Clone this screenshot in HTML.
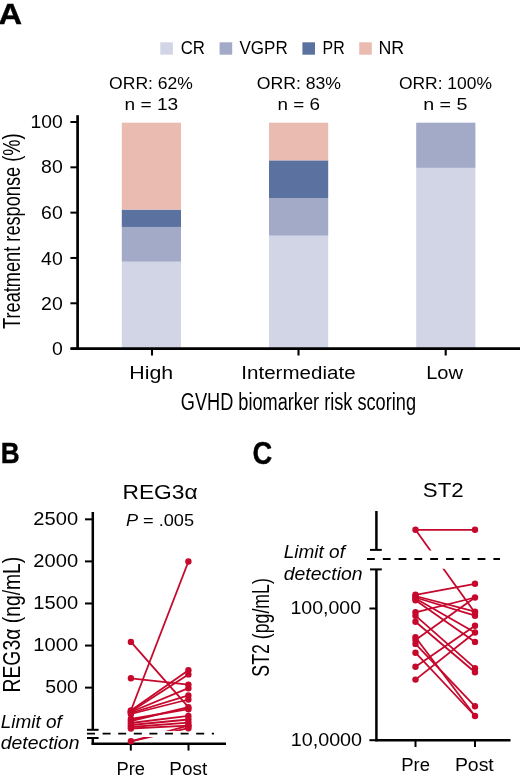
<!DOCTYPE html>
<html><head><meta charset="utf-8"><style>
html,body{margin:0;padding:0;background:#fff;width:520px;height:780px;overflow:hidden}
svg{display:block;will-change:transform;font-family:"Liberation Sans",sans-serif}
text{fill:#000} text[font-weight=bold]{stroke:#000;stroke-width:0.4px}
</style></head><body>
<svg width="520" height="780" viewBox="0 0 520 780">
<rect x="160.3" y="42.3" width="12.6" height="12.4" fill="#d2d5e5"/>
<rect x="219.6" y="42.3" width="12.6" height="12.4" fill="#a3aac8"/>
<rect x="302.4" y="42.3" width="12.6" height="12.4" fill="#5b71a0"/>
<rect x="359.2" y="42.3" width="12.6" height="12.4" fill="#eabbb0"/>
<rect x="121.8" y="261.71538461538466" width="59.2" height="86.88461538461536" fill="#d2d5e5"/>
<rect x="121.8" y="226.96153846153845" width="59.2" height="34.75384615384621" fill="#a3aac8"/>
<rect x="121.8" y="209.5846153846154" width="59.2" height="17.37692307692305" fill="#5b71a0"/>
<rect x="121.8" y="122.70000000000005" width="59.2" height="86.88461538461536" fill="#eabbb0"/>
<rect x="269.0" y="235.65000000000003" width="59.2" height="112.94999999999999" fill="#d2d5e5"/>
<rect x="269.0" y="198.00000000000006" width="59.2" height="37.64999999999998" fill="#a3aac8"/>
<rect x="269.0" y="160.35000000000005" width="59.2" height="37.650000000000006" fill="#5b71a0"/>
<rect x="269.0" y="122.70000000000007" width="59.2" height="37.64999999999998" fill="#eabbb0"/>
<rect x="416.2" y="167.88000000000002" width="59.2" height="180.72" fill="#d2d5e5"/>
<rect x="416.2" y="122.70000000000005" width="59.2" height="45.17999999999998" fill="#a3aac8"/>
<line x1="77.6" y1="115.2" x2="77.6" y2="349.8" stroke="#000" stroke-width="2.7"/>
<line x1="70.6" y1="348.6" x2="520" y2="348.6" stroke="#000" stroke-width="2.6"/>
<line x1="70.4" y1="348.6" x2="77.6" y2="348.6" stroke="#000" stroke-width="2.0"/>
<line x1="70.4" y1="303.28000000000003" x2="77.6" y2="303.28000000000003" stroke="#000" stroke-width="2.0"/>
<line x1="70.4" y1="257.96000000000004" x2="77.6" y2="257.96000000000004" stroke="#000" stroke-width="2.0"/>
<line x1="70.4" y1="212.64000000000001" x2="77.6" y2="212.64000000000001" stroke="#000" stroke-width="2.0"/>
<line x1="70.4" y1="167.32000000000002" x2="77.6" y2="167.32000000000002" stroke="#000" stroke-width="2.0"/>
<line x1="70.4" y1="122.00000000000003" x2="77.6" y2="122.00000000000003" stroke="#000" stroke-width="2.0"/>
<line x1="152.0" y1="348.6" x2="152.0" y2="355.5" stroke="#000" stroke-width="2.1"/>
<line x1="298.5" y1="348.6" x2="298.5" y2="355.5" stroke="#000" stroke-width="2.1"/>
<line x1="445.7" y1="348.6" x2="445.7" y2="355.5" stroke="#000" stroke-width="2.1"/>
<text transform="translate(20.1 231.2) rotate(-90)" x="0" y="0" font-size="23" text-anchor="middle" textLength="195.5" lengthAdjust="spacingAndGlyphs">Treatment response (%)</text>
<line x1="92.8" y1="512" x2="92.8" y2="729.8" stroke="#000" stroke-width="2.5"/>
<line x1="87" y1="729.8" x2="98.6" y2="729.8" stroke="#000" stroke-width="2.0"/>
<line x1="87" y1="738.0" x2="98.6" y2="738.0" stroke="#000" stroke-width="2.0"/>
<line x1="92.8" y1="737.2" x2="92.8" y2="744.6" stroke="#000" stroke-width="2.5"/>
<line x1="91.6" y1="743.8" x2="226" y2="743.8" stroke="#000" stroke-width="2.5"/>
<line x1="85" y1="687.625" x2="92.8" y2="687.625" stroke="#000" stroke-width="2.0"/>
<line x1="85" y1="645.5500000000001" x2="92.8" y2="645.5500000000001" stroke="#000" stroke-width="2.0"/>
<line x1="85" y1="603.475" x2="92.8" y2="603.475" stroke="#000" stroke-width="2.0"/>
<line x1="85" y1="561.4000000000001" x2="92.8" y2="561.4000000000001" stroke="#000" stroke-width="2.0"/>
<line x1="85" y1="519.325" x2="92.8" y2="519.325" stroke="#000" stroke-width="2.0"/>
<line x1="130.8" y1="743.8" x2="130.8" y2="750.6" stroke="#000" stroke-width="2.0"/>
<line x1="188.5" y1="743.8" x2="188.5" y2="750.6" stroke="#000" stroke-width="2.0"/>
<text transform="translate(20.3 624.6) rotate(-90)" x="0" y="0" font-size="23" text-anchor="middle" textLength="135.8" lengthAdjust="spacingAndGlyphs">REG3α (ng/mL)</text>
<line x1="376.4" y1="511" x2="376.4" y2="550" stroke="#000" stroke-width="2.5"/>
<line x1="370" y1="549.9" x2="381.8" y2="549.9" stroke="#000" stroke-width="2.0"/>
<line x1="370" y1="569.4" x2="381.8" y2="569.4" stroke="#000" stroke-width="2.0"/>
<line x1="376.4" y1="569.4" x2="376.4" y2="741.3" stroke="#000" stroke-width="2.5"/>
<line x1="375.2" y1="740.2" x2="510.5" y2="740.2" stroke="#000" stroke-width="2.5"/>
<line x1="369.4" y1="608.5" x2="376.4" y2="608.5" stroke="#000" stroke-width="2.0"/>
<line x1="369.4" y1="740.2" x2="376.4" y2="740.2" stroke="#000" stroke-width="2.0"/>
<line x1="415.5" y1="740.2" x2="415.5" y2="747" stroke="#000" stroke-width="2.0"/>
<line x1="475.0" y1="740.2" x2="475.0" y2="747" stroke="#000" stroke-width="2.0"/>
<text transform="translate(269.3 627.4) rotate(-90)" x="0" y="0" font-size="24" text-anchor="middle" textLength="98.5" lengthAdjust="spacingAndGlyphs">ST2 (pg/mL)</text>
<line x1="87" y1="733.6" x2="214" y2="733.6" stroke="#000" stroke-width="1.9" stroke-dasharray="8 7.6"/>
<line x1="367" y1="559.1" x2="500" y2="559.1" stroke="#000" stroke-width="2.0" stroke-dasharray="7.8 8"/>
<defs><clipPath id="cb"><path d="M0 0H520V731H0ZM0 737H520V780H0Z"/></clipPath><clipPath id="cc"><path d="M0 0H520V550.5H0ZM0 568.8H520V780H0Z"/></clipPath></defs>
<g clip-path="url(#cb)">
<line x1="130.9" y1="641.9" x2="188.4" y2="707.2" stroke="#c5082c" stroke-width="1.8"/>
<line x1="130.9" y1="678.3" x2="188.4" y2="684.6" stroke="#c5082c" stroke-width="1.8"/>
<line x1="130.9" y1="710.5" x2="188.4" y2="561.5" stroke="#c5082c" stroke-width="1.8"/>
<line x1="130.9" y1="741.3" x2="188.4" y2="725.7" stroke="#c5082c" stroke-width="1.8"/>
<line x1="130.9" y1="741.3" x2="188.4" y2="728.2" stroke="#c5082c" stroke-width="1.8"/>
<line x1="130.9" y1="710.5" x2="188.4" y2="670.3" stroke="#c5082c" stroke-width="1.8"/>
<line x1="130.9" y1="711.5" x2="188.4" y2="674.4" stroke="#c5082c" stroke-width="1.8"/>
<line x1="130.9" y1="712" x2="188.4" y2="688.2" stroke="#c5082c" stroke-width="1.8"/>
<line x1="130.9" y1="713" x2="188.4" y2="695.4" stroke="#c5082c" stroke-width="1.8"/>
<line x1="130.9" y1="714" x2="188.4" y2="699.5" stroke="#c5082c" stroke-width="1.8"/>
<line x1="130.9" y1="721" x2="188.4" y2="707.2" stroke="#c5082c" stroke-width="1.8"/>
<line x1="130.9" y1="719" x2="188.4" y2="709.2" stroke="#c5082c" stroke-width="1.8"/>
<line x1="130.9" y1="723" x2="188.4" y2="715.9" stroke="#c5082c" stroke-width="1.8"/>
<line x1="130.9" y1="725" x2="188.4" y2="719.5" stroke="#c5082c" stroke-width="1.8"/>
<line x1="130.9" y1="727" x2="188.4" y2="722.6" stroke="#c5082c" stroke-width="1.8"/>
<line x1="130.9" y1="728.5" x2="188.4" y2="725.6" stroke="#c5082c" stroke-width="1.8"/>
</g>
<circle cx="130.9" cy="641.9" r="3.2" fill="#c5082c"/>
<circle cx="130.9" cy="678.3" r="3.2" fill="#c5082c"/>
<circle cx="130.9" cy="710.5" r="3.2" fill="#c5082c"/>
<circle cx="130.9" cy="711.5" r="3.2" fill="#c5082c"/>
<circle cx="130.9" cy="712" r="3.2" fill="#c5082c"/>
<circle cx="130.9" cy="713" r="3.2" fill="#c5082c"/>
<circle cx="130.9" cy="714" r="3.2" fill="#c5082c"/>
<circle cx="130.9" cy="719" r="3.2" fill="#c5082c"/>
<circle cx="130.9" cy="721" r="3.2" fill="#c5082c"/>
<circle cx="130.9" cy="723" r="3.2" fill="#c5082c"/>
<circle cx="130.9" cy="725" r="3.2" fill="#c5082c"/>
<circle cx="130.9" cy="727" r="3.2" fill="#c5082c"/>
<circle cx="130.9" cy="728.5" r="3.2" fill="#c5082c"/>
<circle cx="130.9" cy="741.3" r="3.2" fill="#c5082c"/>
<circle cx="188.4" cy="561.5" r="3.2" fill="#c5082c"/>
<circle cx="188.4" cy="670.3" r="3.2" fill="#c5082c"/>
<circle cx="188.4" cy="674.4" r="3.2" fill="#c5082c"/>
<circle cx="188.4" cy="684.6" r="3.2" fill="#c5082c"/>
<circle cx="188.4" cy="688.2" r="3.2" fill="#c5082c"/>
<circle cx="188.4" cy="695.4" r="3.2" fill="#c5082c"/>
<circle cx="188.4" cy="699.5" r="3.2" fill="#c5082c"/>
<circle cx="188.4" cy="707.2" r="3.2" fill="#c5082c"/>
<circle cx="188.4" cy="709.2" r="3.2" fill="#c5082c"/>
<circle cx="188.4" cy="715.9" r="3.2" fill="#c5082c"/>
<circle cx="188.4" cy="719.5" r="3.2" fill="#c5082c"/>
<circle cx="188.4" cy="722.6" r="3.2" fill="#c5082c"/>
<circle cx="188.4" cy="725.6" r="3.2" fill="#c5082c"/>
<circle cx="188.4" cy="725.7" r="3.2" fill="#c5082c"/>
<circle cx="188.4" cy="728.2" r="3.2" fill="#c5082c"/>
<g clip-path="url(#cc)">
<line x1="415.5" y1="529.8" x2="475.0" y2="529.8" stroke="#c5082c" stroke-width="1.8"/>
<line x1="415.5" y1="529.8" x2="475.0" y2="612.8" stroke="#c5082c" stroke-width="1.8"/>
<line x1="415.5" y1="594.8" x2="475.0" y2="583.8" stroke="#c5082c" stroke-width="1.8"/>
<line x1="415.5" y1="596" x2="475.0" y2="611.6" stroke="#c5082c" stroke-width="1.8"/>
<line x1="415.5" y1="597.5" x2="475.0" y2="615.7" stroke="#c5082c" stroke-width="1.8"/>
<line x1="415.5" y1="598.5" x2="475.0" y2="632.5" stroke="#c5082c" stroke-width="1.8"/>
<line x1="415.5" y1="600.2" x2="475.0" y2="641.9" stroke="#c5082c" stroke-width="1.8"/>
<line x1="415.5" y1="612.3" x2="475.0" y2="597.5" stroke="#c5082c" stroke-width="1.8"/>
<line x1="415.5" y1="615.7" x2="475.0" y2="668.2" stroke="#c5082c" stroke-width="1.8"/>
<line x1="415.5" y1="621.7" x2="475.0" y2="672.2" stroke="#c5082c" stroke-width="1.8"/>
<line x1="415.5" y1="639.9" x2="475.0" y2="597.5" stroke="#c5082c" stroke-width="1.8"/>
<line x1="415.5" y1="643.9" x2="475.0" y2="706.3" stroke="#c5082c" stroke-width="1.8"/>
<line x1="415.5" y1="637.2" x2="475.0" y2="716" stroke="#c5082c" stroke-width="1.8"/>
<line x1="415.5" y1="652.7" x2="475.0" y2="716" stroke="#c5082c" stroke-width="1.8"/>
<line x1="415.5" y1="666.8" x2="475.0" y2="625.8" stroke="#c5082c" stroke-width="1.8"/>
<line x1="415.5" y1="679.6" x2="475.0" y2="632.5" stroke="#c5082c" stroke-width="1.8"/>
</g>
<circle cx="415.5" cy="529.8" r="3.2" fill="#c5082c"/>
<circle cx="415.5" cy="594.8" r="3.2" fill="#c5082c"/>
<circle cx="415.5" cy="596" r="3.2" fill="#c5082c"/>
<circle cx="415.5" cy="597.5" r="3.2" fill="#c5082c"/>
<circle cx="415.5" cy="598.5" r="3.2" fill="#c5082c"/>
<circle cx="415.5" cy="600.2" r="3.2" fill="#c5082c"/>
<circle cx="415.5" cy="612.3" r="3.2" fill="#c5082c"/>
<circle cx="415.5" cy="615.7" r="3.2" fill="#c5082c"/>
<circle cx="415.5" cy="621.7" r="3.2" fill="#c5082c"/>
<circle cx="415.5" cy="637.2" r="3.2" fill="#c5082c"/>
<circle cx="415.5" cy="639.9" r="3.2" fill="#c5082c"/>
<circle cx="415.5" cy="643.9" r="3.2" fill="#c5082c"/>
<circle cx="415.5" cy="652.7" r="3.2" fill="#c5082c"/>
<circle cx="415.5" cy="666.8" r="3.2" fill="#c5082c"/>
<circle cx="415.5" cy="679.6" r="3.2" fill="#c5082c"/>
<circle cx="475.0" cy="529.8" r="3.2" fill="#c5082c"/>
<circle cx="475.0" cy="583.8" r="3.2" fill="#c5082c"/>
<circle cx="475.0" cy="597.5" r="3.2" fill="#c5082c"/>
<circle cx="475.0" cy="611.6" r="3.2" fill="#c5082c"/>
<circle cx="475.0" cy="612.8" r="3.2" fill="#c5082c"/>
<circle cx="475.0" cy="615.7" r="3.2" fill="#c5082c"/>
<circle cx="475.0" cy="625.8" r="3.2" fill="#c5082c"/>
<circle cx="475.0" cy="632.5" r="3.2" fill="#c5082c"/>
<circle cx="475.0" cy="641.9" r="3.2" fill="#c5082c"/>
<circle cx="475.0" cy="668.2" r="3.2" fill="#c5082c"/>
<circle cx="475.0" cy="672.2" r="3.2" fill="#c5082c"/>
<circle cx="475.0" cy="706.3" r="3.2" fill="#c5082c"/>
<circle cx="475.0" cy="716" r="3.2" fill="#c5082c"/>
<text x="-1.4" y="23.7" font-size="29.5" text-anchor="start" textLength="23.58" lengthAdjust="spacingAndGlyphs" font-weight="bold">A</text>
<text x="0.72" y="462.9" font-size="29.5" text-anchor="start" textLength="18.88" lengthAdjust="spacingAndGlyphs" font-weight="bold">B</text>
<text x="252.54" y="463.6" font-size="31.5" text-anchor="start" textLength="19.7" lengthAdjust="spacingAndGlyphs" font-weight="bold">C</text>
<text x="180.74" y="53.8" font-size="18" text-anchor="start" textLength="24.23" lengthAdjust="spacingAndGlyphs">CR</text>
<text x="239.48" y="53.8" font-size="18" text-anchor="start" textLength="48.23" lengthAdjust="spacingAndGlyphs">VGPR</text>
<text x="322.52" y="53.8" font-size="18" text-anchor="start" textLength="22.13" lengthAdjust="spacingAndGlyphs">PR</text>
<text x="378.4" y="53.8" font-size="18" text-anchor="start" textLength="25.75" lengthAdjust="spacingAndGlyphs">NR</text>
<text x="151.0" y="88.5" font-size="16.2" text-anchor="middle" textLength="83.8" lengthAdjust="spacingAndGlyphs">ORR: 62%</text>
<text x="151.4" y="109.6" font-size="16.2" text-anchor="middle" textLength="53.7" lengthAdjust="spacingAndGlyphs">n = 13</text>
<text x="298.86" y="88.5" font-size="16.2" text-anchor="middle" textLength="84.37" lengthAdjust="spacingAndGlyphs">ORR: 83%</text>
<text x="298.74" y="109.6" font-size="16.2" text-anchor="middle" textLength="42.45" lengthAdjust="spacingAndGlyphs">n = 6</text>
<text x="445.46" y="88.5" font-size="16.2" text-anchor="middle" textLength="93.04" lengthAdjust="spacingAndGlyphs">ORR: 100%</text>
<text x="445.3" y="109.6" font-size="16.2" text-anchor="middle" textLength="44.31" lengthAdjust="spacingAndGlyphs">n = 5</text>
<text x="151.32" y="379.0" font-size="17.5" text-anchor="middle" textLength="43.87" lengthAdjust="spacingAndGlyphs">High</text>
<text x="298.46" y="378.7" font-size="17.5" text-anchor="middle" textLength="114.23" lengthAdjust="spacingAndGlyphs">Intermediate</text>
<text x="444.58" y="379.0" font-size="17.5" text-anchor="middle" textLength="36.8" lengthAdjust="spacingAndGlyphs">Low</text>
<text x="298.4" y="410.4" font-size="23" text-anchor="middle" textLength="235.23" lengthAdjust="spacingAndGlyphs">GVHD biomarker risk scoring</text>
<text x="160.06" y="498.5" font-size="20.5" text-anchor="middle" textLength="75.17" lengthAdjust="spacingAndGlyphs">REG3α</text>
<text x="160.0" y="526.2" font-size="16" text-anchor="middle" textLength="68.1" lengthAdjust="spacingAndGlyphs"><tspan font-style="italic">P</tspan> = .005</text>
<text x="0.66" y="727.7" font-size="17.5" text-anchor="start" textLength="61.05" lengthAdjust="spacingAndGlyphs" font-style="italic">Limit of</text>
<text x="0.66" y="748.8" font-size="17.5" text-anchor="start" textLength="78.8" lengthAdjust="spacingAndGlyphs" font-style="italic">detection</text>
<text x="130.7" y="774.6" font-size="17.5" text-anchor="middle" textLength="28.52" lengthAdjust="spacingAndGlyphs">Pre</text>
<text x="188.28" y="774.6" font-size="17.5" text-anchor="middle" textLength="37.85" lengthAdjust="spacingAndGlyphs">Post</text>
<text x="443.3" y="496.9" font-size="20.5" text-anchor="middle" textLength="40.89" lengthAdjust="spacingAndGlyphs">ST2</text>
<text x="283.74" y="558.2" font-size="17.5" text-anchor="start" textLength="61.18" lengthAdjust="spacingAndGlyphs" font-style="italic">Limit of</text>
<text x="283.74" y="579.6" font-size="17.5" text-anchor="start" textLength="78.88" lengthAdjust="spacingAndGlyphs" font-style="italic">detection</text>
<text x="361.1" y="614.2" font-size="18.5" text-anchor="end" textLength="70.7" lengthAdjust="spacingAndGlyphs">100,000</text>
<text x="362.08" y="746.1" font-size="18.5" text-anchor="end" textLength="71.37" lengthAdjust="spacingAndGlyphs">10,0000</text>
<text x="415.6" y="771.3" font-size="17.5" text-anchor="middle" textLength="28.8" lengthAdjust="spacingAndGlyphs">Pre</text>
<text x="474.36" y="771.3" font-size="17.5" text-anchor="middle" textLength="38.85" lengthAdjust="spacingAndGlyphs">Post</text>
<text x="62.72" y="127.9" font-size="18.5" text-anchor="end" textLength="32.19" lengthAdjust="spacingAndGlyphs">100</text>
<text x="62.72" y="173.3" font-size="18.5" text-anchor="end" textLength="21.64" lengthAdjust="spacingAndGlyphs">80</text>
<text x="62.72" y="218.7" font-size="18.5" text-anchor="end" textLength="21.64" lengthAdjust="spacingAndGlyphs">60</text>
<text x="62.72" y="264.6" font-size="18.5" text-anchor="end" textLength="21.64" lengthAdjust="spacingAndGlyphs">40</text>
<text x="62.72" y="309.5" font-size="18.5" text-anchor="end" textLength="21.64" lengthAdjust="spacingAndGlyphs">20</text>
<text x="62.72" y="354.9" font-size="18.5" text-anchor="end" textLength="10.82" lengthAdjust="spacingAndGlyphs">0</text>
<text x="78.1" y="524.9" font-size="18.5" text-anchor="end" textLength="44.75" lengthAdjust="spacingAndGlyphs">2500</text>
<text x="78.1" y="567.3" font-size="18.5" text-anchor="end" textLength="44.75" lengthAdjust="spacingAndGlyphs">2000</text>
<text x="78.1" y="609.3" font-size="18.5" text-anchor="end" textLength="44.75" lengthAdjust="spacingAndGlyphs">1500</text>
<text x="78.1" y="651.3" font-size="18.5" text-anchor="end" textLength="44.75" lengthAdjust="spacingAndGlyphs">1000</text>
<text x="77.78" y="693.4" font-size="18.5" text-anchor="end" textLength="32.46" lengthAdjust="spacingAndGlyphs">500</text>
</svg>
</body></html>
